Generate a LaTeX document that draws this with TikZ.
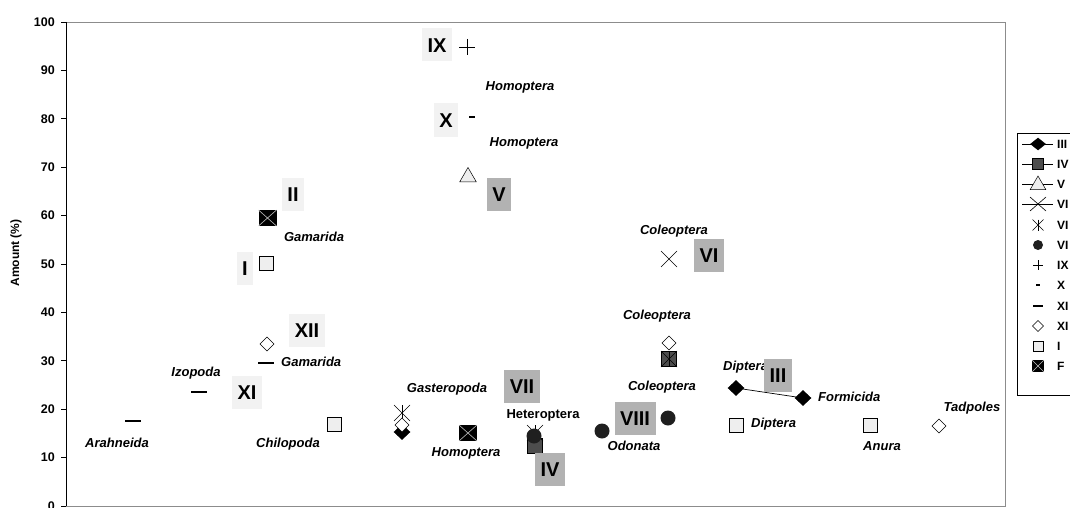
\documentclass[tikz,border=0pt]{standalone}
\usepackage{fontspec}
\setmainfont{Liberation Sans}
\usetikzlibrary{shapes.geometric,shapes.misc}
\definecolor{boxlight}{HTML}{F2F2F2}
\definecolor{boxgray}{HTML}{B2B2B2}
\definecolor{framegray}{HTML}{8C8C8C}
\definecolor{mfill}{HTML}{EEEEEE}
\definecolor{sqdark}{HTML}{4D4D4D}
\begin{document}
\begin{tikzpicture}[x=1pt,y=-1pt,
  mk/.style={inner sep=0pt, outer sep=0pt},
  bdia/.style={mk, diamond, fill=black, draw=black, minimum width=16pt, minimum height=15pt},
  wdia/.style={mk, diamond, fill=white, draw=black, line width=0.6pt, minimum width=14pt, minimum height=14pt},
  sqL/.style={mk, rectangle, fill=mfill, draw=black, line width=0.5pt, minimum size=14pt},
  sqD/.style={mk, rectangle, fill=sqdark, draw=black, line width=0.5pt, minimum size=15pt},
  tri/.style={mk, regular polygon, regular polygon sides=3, fill=mfill, draw=black, line width=0.5pt, minimum size=19pt},
  xm/.style={mk, cross out, draw=black, line width=0.6pt, minimum size=16pt},
  circm/.style={mk, circle, fill=black!88, minimum size=15pt},
  plusm/.style={mk, minimum size=16pt},
  dashS/.style={mk, rectangle, fill=black, minimum width=6pt, minimum height=2pt},
  dashL/.style={mk, rectangle, fill=black, minimum width=16pt, minimum height=2.5pt},
  fm/.style={mk, rectangle, fill=black, minimum width=18pt, minimum height=16pt},
  rn/.style={font=\fontsize{20}{22}\selectfont\bfseries, inner xsep=5.5pt, inner ysep=0pt, minimum height=33pt, text height=14.5pt, text depth=0pt},
  rl/.style={rn, fill=boxlight},
  rg/.style={rn, fill=boxgray},
  lb/.style={font=\fontsize{13}{15}\selectfont\bfseries\itshape, inner sep=0pt, text height=9.5pt, text depth=2.5pt},
  lbu/.style={font=\fontsize{13}{15}\selectfont\bfseries, inner sep=0pt, text height=9.5pt, text depth=2.5pt},
  tick/.style={font=\fontsize{12.5}{14}\selectfont\bfseries, inner sep=0pt, anchor=east},
  leg/.style={font=\fontsize{12}{14}\selectfont\bfseries, inner sep=0pt, anchor=west}
]
\useasboundingbox (0,0) rectangle (1070,508);
\clip (0,0) rectangle (1070,508);

% frame and axis
\draw[framegray, line width=0.8pt] (66,22) -- (1005,22) -- (1005,506) -- (66,506);
\draw[black, line width=0.9pt] (66,22) -- (66,506);
\foreach \v in {0,10,...,100} {
  \draw[black, line width=0.8pt] (61,{506-4.84*\v}) -- (66,{506-4.84*\v});
  \node[tick] (t\v) at (55,{506-4.84*\v}) {\v};
}
\node[font=\fontsize{12}{14}\selectfont\bfseries, rotate=90, inner sep=0pt] (ylab) at (16,253) {Amount (\%)};

% species labels
\node[lb] (hom1) at (520,87) {Homoptera};
\node[lb] (hom2) at (524,143) {Homoptera};
\node[lb] (gam1) at (314,238) {Gamarida};
\node[lb, anchor=west] (gam2) at (281,363) {Gamarida};
\node[lb] (izo) at (196,373) {Izopoda};
\node[lb] (ara) at (117,444) {Arahneida};
\node[lb] (chi) at (288,444) {Chilopoda};
\node[lb] (gas) at (447,389) {Gasteropoda};
\node[lb] (hom3) at (466,453) {Homoptera};
\node[lbu] (het) at (543,415) {Heteroptera};
\node[lb] (col1) at (674,231) {Coleoptera};
\node[lb] (col2) at (657,316) {Coleoptera};
\node[lb] (col3) at (662,387) {Coleoptera};
\node[lb] (odo) at (634,447) {Odonata};
\node[lb, anchor=west] (dip1) at (723,367) {Diptera};
\node[lb, anchor=west] (for) at (818,398) {Formicida};
\node[lb, anchor=west] (dip2) at (751,424) {Diptera};
\node[lb] (anu) at (882,447) {Anura};
\node[lb] (tad) at (972,408) {Tadpoles};

% series III
\node[bdia] (d1) at (736,388) {};
\node[bdia] (d2) at (803,398) {};
\draw[black, line width=0.7pt] (d1) -- (d2);
\node[bdia] (d3) at (402,432) {};
% series IV
\node[sqD] (s1) at (535,446) {};
\node[sqD] (s2) at (669,359) {};
% series V
\node[tri] (tr1) at (468,177) {};
% series VI
\node[xm] (x1) at (669,259) {};
% series VII (asterisk)
\node[xm] (a1) at (402,413) {};
\draw[black, line width=0.6pt] (a1.north) -- (a1.south);
\node[xm] (a2) at (535,433) {};
\draw[black, line width=0.6pt] (a2.north) -- (a2.south);
\node[xm] (a3) at (669,359) {};
\draw[black, line width=0.6pt] (a3.north) -- (a3.south);
% series VIII
\node[circm] (c1) at (602,431) {};
\node[circm] (c2) at (668,418) {};
\node[circm] (c3) at (534,436) {};
% series IX
\node[plusm] (p1) at (467,47) {};
\draw[black, line width=0.6pt] (p1.north) -- (p1.south) (p1.west) -- (p1.east);
% series X
\node[dashS] (ds1) at (472,117) {};
% series XI
\node[dashL] (dl1) at (133,421) {};
\node[dashL] (dl2) at (199,392) {};
\node[dashL] (dl3) at (266,363) {};
% series XII
\node[wdia] (w1) at (267,344) {};
\node[wdia] (w2) at (402,425) {};
\node[wdia] (w3) at (669,343) {};
\node[wdia] (w4) at (939,426) {};
% series I
\node[sqL] (q1) at (266,263) {};
\node[sqL] (q2) at (334,424) {};
\node[sqL] (q3) at (736,425) {};
\node[sqL] (q4) at (870,425) {};
% series F
\node[fm] (f1) at (267.5,218) {};
\draw[white!75!black, line width=0.6pt] (f1.north west) -- (f1.south east) (f1.north east) -- (f1.south west);
\node[fm] (f2) at (468,433) {};
\draw[white!75!black, line width=0.6pt] (f2.north west) -- (f2.south east) (f2.north east) -- (f2.south west);

% roman numeral boxes
\node[rl] (bIX) at (437,45) {IX};
\node[rl] (bX) at (446,120) {X};
\node[rg] (bV) at (499,194) {V};
\node[rl] (bII) at (293,194) {II};
\node[rl] (bI) at (245,268) {I};
\node[rl] (bXII) at (307,330) {XII};
\node[rl] (bXI) at (247,392) {XI};
\node[rg] (bVII) at (522,386) {VII};
\node[rg] (bIV) at (550,469) {IV};
\node[rg] (bVI) at (709,255) {VI};
\node[rg] (bVIII) at (635,418) {VIII};
\node[rg] (bIII) at (778,375) {III};

% legend
\draw[black, line width=0.6pt] (1017,133) rectangle (1100,395);
\coordinate (l1a) at (1022,144); \coordinate (l1b) at (1053,144);
\draw[black, line width=0.7pt] (l1a) -- (l1b);
\node[bdia, minimum width=15pt, minimum height=12pt] (lm1) at (1038,144) {};
\node[leg] (lt1) at (1057,144) {III};
\coordinate (l2a) at (1022,164); \coordinate (l2b) at (1053,164);
\draw[black, line width=0.7pt] (l2a) -- (l2b);
\node[sqD, minimum size=11pt] (lm2) at (1038,164) {};
\node[leg] (lt2) at (1057,164) {IV};
\coordinate (l3a) at (1022,184); \coordinate (l3b) at (1053,184);
\draw[black, line width=0.5pt] (l3a) -- (l3b);
\node[tri, minimum size=18pt] (lm3) at (1038,185) {};
\node[leg] (lt3) at (1057,184) {V};
\coordinate (l4a) at (1022,204); \coordinate (l4b) at (1053,204);
\draw[black, line width=0.5pt] (l4a) -- (l4b);
\node[xm, minimum width=16pt, minimum height=14pt] (lm4) at (1038,204) {};
\node[leg] (lt4) at (1057,204) {VI};
\node[xm, minimum size=11pt] (lm5) at (1038,225) {};
\draw[black, line width=0.6pt] (lm5.north) -- (lm5.south);
\node[leg] (lt5) at (1057,225) {VI};
\node[circm, minimum size=10pt] (lm6) at (1038,245) {};
\node[leg] (lt6) at (1057,245) {VI};
\node[plusm, minimum size=10pt] (lm7) at (1038,265) {};
\draw[black, line width=0.6pt] (lm7.north) -- (lm7.south) (lm7.west) -- (lm7.east);
\node[leg] (lt7) at (1057,265) {IX};
\node[dashS, minimum width=4.5pt, minimum height=2.2pt] (lm8) at (1038,285) {};
\node[leg] (lt8) at (1057,285) {X};
\node[dashL, minimum width=10pt, minimum height=2.4pt] (lm9) at (1038,306) {};
\node[leg] (lt9) at (1057,306) {XI};
\node[wdia, minimum width=11pt, minimum height=11pt] (lm10) at (1038,326) {};
\node[leg] (lt10) at (1057,326) {XI};
\node[sqL, minimum size=10pt] (lm11) at (1038,346) {};
\node[leg] (lt11) at (1057,346) {I};
\node[fm, minimum width=12pt, minimum height=12pt] (lm12) at (1038,366) {};
\draw[white!75!black, line width=0.5pt] (lm12.north west) -- (lm12.south east) (lm12.north east) -- (lm12.south west);
\node[leg] (lt12) at (1057,366) {F};
\end{tikzpicture}
\end{document}
